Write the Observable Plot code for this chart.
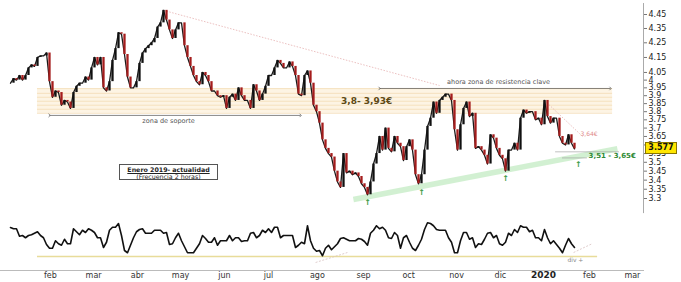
<!DOCTYPE html>
<html><head><meta charset="utf-8">
<script src="https://cdn.jsdelivr.net/npm/d3@7"></script>
<script src="https://cdn.jsdelivr.net/npm/@observablehq/plot@0.6"></script>
<style>
html,body{margin:0;padding:0;background:#fff;}
#wrap{position:relative;width:681px;height:282px;overflow:hidden;font-family:"DejaVu Sans",sans-serif;}
#wrap svg{display:block;}
.box{position:absolute;left:119px;top:164px;width:99px;height:16px;border:1px solid #555;font-size:6.3px;line-height:7.5px;text-align:center;color:#222;box-sizing:border-box;padding-top:0.5px;}
.box b{text-decoration:underline;}
.last{position:absolute;left:645px;width:30px;height:10px;background:#ffe600;border:1px solid #8a7600;font-size:8px;font-weight:bold;line-height:10px;text-align:center;color:#111;box-sizing:content-box;}
</style></head>
<body><div id="wrap"></div>
<script>
// Price closes (EUR), Enero 2019 - enero 2020, sampled along the time axis
const price = [
3.98,4.01,4.00,4.03,4.00,4.03,4.08,4.10,4.09,4.15,
4.16,4.16,4.18,3.99,3.89,3.93,3.92,3.84,3.87,3.86,
3.82,3.92,3.96,3.98,3.98,4.02,4.00,4.08,4.15,4.10,
4.15,3.95,3.93,3.99,4.13,4.21,4.32,4.31,4.17,4.02,
3.95,3.95,3.99,4.11,4.18,4.21,4.23,4.25,4.28,4.36,
4.39,4.48,4.41,4.34,4.28,4.34,4.39,4.39,4.23,4.15,
4.09,4.03,3.99,3.97,4.05,4.03,3.99,3.93,3.93,3.90,
3.89,3.90,3.82,3.89,3.91,3.87,3.95,3.90,3.87,3.87,
3.82,3.97,3.93,3.87,3.91,3.96,4.03,4.03,4.08,4.13,
4.11,4.08,4.08,4.12,4.09,4.03,3.91,3.90,4.03,4.06,
3.98,3.84,3.80,3.73,3.63,3.58,3.55,3.53,3.45,3.39,
3.36,3.55,3.44,3.45,3.43,3.44,3.42,3.38,3.36,3.32,
3.39,3.49,3.55,3.65,3.57,3.70,3.58,3.56,3.65,3.61,
3.59,3.51,3.59,3.63,3.57,3.43,3.38,3.43,3.57,3.71,
3.76,3.86,3.79,3.87,3.89,3.91,3.91,3.87,3.69,3.57,
3.72,3.82,3.86,3.77,3.79,3.58,3.59,3.57,3.54,3.49,
3.66,3.64,3.58,3.54,3.52,3.45,3.57,3.57,3.61,3.57,
3.76,3.81,3.79,3.80,3.80,3.75,3.76,3.72,3.87,3.77,
3.73,3.76,3.76,3.65,3.61,3.60,3.66,3.61,3.577
];
// Oscillator values (same sampling)
const osc = [
68.7,67,67,57,58,55,58,59,61,63,
58,55,46,41,41,51,47,45,53,47,
47,67,63,59,65,62,67,65,62,55,
55,42,49,65,69,69,74,58,38,35,
45,55,63,66,67,61,61,61,65,65,
65,61,62,46,47,55,61,51,43,35,
35,35,41,47,58,54,49,49,55,45,
51,51,51,58,51,55,55,50,51,51,
61,62,55,58,65,62,67,62,69,69,
55,58,58,58,58,42,45,49,47,71,
51,41,37,38,31,41,45,39,43,47,
54,55,53,51,51,51,54,53,50,45,
61,65,71,67,69,65,55,54,62,58,
41,55,58,49,41,38,45,53,66,75,
74,71,66,65,65,65,55,49,35,35,
51,62,62,53,55,42,47,46,53,61,
62,55,58,47,45,49,61,58,66,62,
71,69,69,63,65,55,55,51,66,55,
47,51,46,41,35,45,54,47,42
];
const monthLabels = ["feb","mar","abr","may","jun","jul","ago","sep","oct","nov","dic","2020","feb","mar"];
const monthPos = [13.3,27.7,42.3,56.7,71.3,86,102.3,117.7,132.7,148.7,163.3,177.7,193,207.3];
const priceTicks = [4.45,4.35,4.25,4.15,4.05,4,3.95,3.9,3.85,3.8,3.75,3.7,3.65,3.6,3.55,3.5,3.45,3.4,3.35,3.3];
const priceDomain = [3.3, 4.45];
const xDomain = [-3.33, 211];
const lastPrice = 3.577;

// annotation data (in time-index / price units)
const zone = [{start: 9, end: 200.7, lo: 3.79, hi: 3.945}];
const zoneLines = [3.79, 3.815, 3.84, 3.865, 3.89, 3.915, 3.945];
const rangeArrows = [
  {x1: 13, x2: 96.7, p: 3.777},
  {x1: 123, x2: 200, p: 3.946}
];
const zoneNotes = [
  {i: 52.7, p: 3.746, text: "zona de soporte"},
  {i: 162.7, p: 3.991, text: "ahora zona de resistencia clave"}
];
const keyLabel = [{i: 118.7, p: 3.863, text: "3,8- 3,93€"}];
const supportLabel = [{i: 192.7, p: 3.535, text: "3,51 - 3,65€"}];
const resLabel = [{i: 190, p: 3.665, text: "3,64€"}];
const downTrend = [{i1: 51, p1: 4.48, i2: 143, p2: 3.965}, {i1: 178, p1: 3.87, i2: 191, p2: 3.645}];
const upTrend = [{i1: 114.3, p1: 3.295, i2: 202.3, p2: 3.578}];
const flatLines = [{x1: 181.7, x2: 203, p: 3.56}, {x1: 184, x2: 192.3, p: 3.525}];
const lowMarks = [{i: 119, p: 3.28}, {i: 137, p: 3.33}, {i: 165, p: 3.41}, {i: 189.3, p: 3.49}];
const axisSpan = [{y1: 4.53, y2: 3.22}];
const oscBase = [{x1: 9, x2: 195.7, v: 30}];
const oscDiv = [{i1: 101.7, v1: 22, i2: 112.3, v2: 35.3}, {i1: 187.7, v1: 35.3, i2: 194, v2: 47.3}];
const divNote = [{i: 188.3, v: 24.7, text: "div +"}];

const rows = price.map((p, i) => ({i, p, prev: i ? price[i - 1] : p}));
const oscRows = osc.map((v, i) => ({i, v}));
const months = monthLabels.map((label, k) => ({label, pos: monthPos[k]}));

const font = {fontFamily: "DejaVu Sans, sans-serif", fontSize: "8px", background: "transparent", overflow: "visible"};

const priceChart = Plot.plot({
  width: 681, height: 212, marginLeft: 0, marginRight: 38, marginTop: 14, marginBottom: 14,
  style: font,
  x: {domain: xDomain, axis: null},
  y: {type: "log", domain: priceDomain, axis: null},
  marks: [
    Plot.rect(zone, {x1: "start", x2: "end", y1: "lo", y2: "hi", fill: "#fdf4e4"}),
    Plot.ruleY(zoneLines, {x1: zone[0].start, x2: zone[0].end, stroke: "#f2d8ae", strokeWidth: 0.7}),
    Plot.link(downTrend, {x1: "i1", y1: "p1", x2: "i2", y2: "p2", stroke: "#e6b0b0", strokeWidth: 0.8, strokeDasharray: "1.5,1.5"}),
    Plot.link(upTrend, {x1: "i1", y1: "p1", x2: "i2", y2: "p2", stroke: "#cdeecd", strokeWidth: 5.5, strokeOpacity: 0.9}),
    Plot.ruleY(flatLines, {y: "p", x1: "x1", x2: "x2", stroke: "#999", strokeWidth: 0.6}),
    Plot.link(rangeArrows, {x1: "x1", x2: "x2", y1: "p", y2: "p", stroke: "#555", strokeWidth: 0.7, markerStart: "arrow", markerEnd: "arrow"}),
    Plot.text(zoneNotes, {x: "i", y: "p", text: "text", fill: "#555", fontSize: 6.5, letterSpacing: "0.4px"}),
    Plot.text(keyLabel, {x: "i", y: "p", text: "text", fill: "#5e4a16", fontSize: 9, fontWeight: "bold"}),
    Plot.text(supportLabel, {x: "i", y: "p", text: "text", fill: "#2f8a35", fontSize: 7, fontWeight: "bold", textAnchor: "start"}),
    Plot.text(resLabel, {x: "i", y: "p", text: "text", fill: "#e08a8a", fontSize: 6, textAnchor: "start"}),
    Plot.text(lowMarks, {x: "i", y: "p", text: () => "↑", fill: "#3a9a45", fontSize: 8, fontWeight: "bold"}),
    Plot.line(rows, {x: "i", y: "p", stroke: "#1a1a1a", strokeWidth: 1.3}),
    Plot.ruleX(rows, {x: "i", y1: "prev", y2: "p", stroke: d => d.p < d.prev ? "#a51d1d" : "#111", strokeWidth: 2.3}),
    Plot.ruleX(axisSpan, {x: xDomain[1], y1: "y1", y2: "y2", stroke: "#aaa"}),
    Plot.axisY({anchor: "right", ticks: priceTicks, tickSize: 3, tickPadding: 2, tickFormat: d => String(d), fill: "#222", stroke: "#777", fontSize: 8})
  ]
});

const oscChart = Plot.plot({
  width: 681, height: 70, marginLeft: 0, marginRight: 38, marginTop: 14, marginBottom: 12,
  style: font,
  x: {domain: xDomain, axis: null},
  y: {domain: [30, 70], range: [44, 14], axis: null},
  marks: [
    Plot.ruleY(oscBase, {y: "v", x1: "x1", x2: "x2", stroke: "#e8dc9a", strokeWidth: 1.5}),
    Plot.link(oscDiv, {x1: "i1", y1: "v1", x2: "i2", y2: "v2", stroke: "#d8c0c0", strokeWidth: 0.8, strokeDasharray: "2,1.5"}),
    Plot.text(divNote, {x: "i", y: "v", text: "text", fill: "#888", fontSize: 6}),
    Plot.line(oscRows, {x: "i", y: "v", stroke: "#111", strokeWidth: 1.6}),
    Plot.frame({anchor: "bottom", stroke: "#bbb"}),
    Plot.text(months.filter(d => d.label !== "2020"), {x: "pos", text: "label", frameAnchor: "bottom", lineAnchor: "middle", dy: 5, fill: "#333", fontSize: 8}),
    Plot.text(months.filter(d => d.label === "2020"), {x: "pos", text: "label", frameAnchor: "bottom", lineAnchor: "middle", dy: 5, fill: "#222", fontSize: 9, fontWeight: "bold"})
  ]
});

const wrap = document.getElementById("wrap");
wrap.appendChild(priceChart);
wrap.appendChild(oscChart);

const box = document.createElement("div");
box.className = "box";
box.innerHTML = "<b>Enero 2019- actualidad</b><br>(Frecuencia 2 horas)";
wrap.appendChild(box);

const last = document.createElement("div");
last.className = "last";
last.textContent = String(lastPrice);
last.style.top = (priceChart.scale("y").apply(lastPrice) - 6) + "px";
wrap.appendChild(last);
</script>
</body></html>
